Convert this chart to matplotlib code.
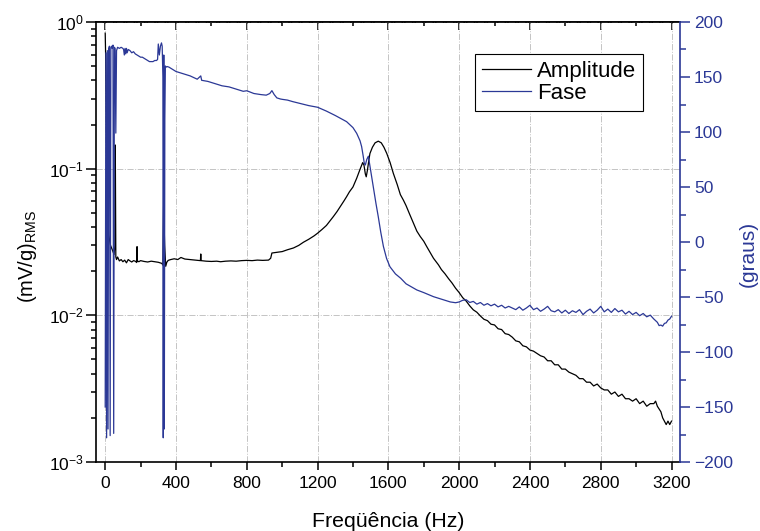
import matplotlib
matplotlib.use("Agg")
import matplotlib.pyplot as plt
from matplotlib.ticker import MultipleLocator, LogLocator, NullFormatter, FixedLocator

plt.rcParams['font.family'] = ['Liberation Sans', 'DejaVu Sans']
plt.rcParams['mathtext.fontset'] = 'custom'
plt.rcParams['mathtext.rm'] = 'Liberation Sans'
plt.rcParams['mathtext.it'] = 'Liberation Sans:italic'

# ---------------- data ----------------
amp_freq = [0, 3, 6, 10, 20, 30, 40, 50, 55, 57, 60, 64, 70, 80, 90, 100, 110, 120, 130, 140,
            150, 160, 170, 178, 180, 182, 190, 200, 220, 240, 260, 280, 300, 310, 320, 326,
            330, 336, 342, 348, 356, 370, 390, 410, 428, 450, 480, 510, 538, 540, 542, 570,
            600, 630, 652, 680, 710, 740, 770, 800, 830, 860, 890, 923, 935, 942, 960, 980,
            1000, 1030, 1064, 1094, 1120, 1150, 1180, 1200, 1225, 1250, 1270, 1289, 1310,
            1330, 1350, 1364, 1380, 1400, 1421, 1440, 1455, 1462, 1470, 1475, 1482, 1490,
            1496, 1510, 1525, 1543, 1560, 1575, 1591, 1610, 1628, 1650, 1668, 1685, 1700,
            1720, 1742, 1761, 1780, 1800, 1817, 1835, 1855, 1870, 1883,
            1900, 1920, 1940, 1960, 1980, 2000, 2020, 2040, 2060, 2080, 2100, 2120, 2140,
            2160, 2180, 2200, 2220, 2240, 2260, 2280, 2300, 2320, 2340, 2360, 2380, 2400,
            2420, 2440, 2460, 2480, 2500, 2520, 2540, 2560, 2580, 2600, 2620, 2640, 2660,
            2680, 2700, 2720, 2740, 2760, 2780, 2800, 2820, 2840, 2860, 2880, 2900, 2920,
            2940, 2960, 2980, 3000, 3020, 3040, 3060, 3080, 3100, 3110, 3120, 3130, 3140,
            3150, 3160, 3170, 3180, 3190, 3200]
amplitude = [0.84, 0.55, 0.2, 0.06, 0.035, 0.03, 0.028, 0.026, 0.03, 0.145, 0.025, 0.024, 0.025,
             0.0235, 0.024, 0.0232, 0.0238, 0.0228, 0.024, 0.0235, 0.0231, 0.0236, 0.0234,
             0.0229, 0.0294, 0.0235, 0.0232, 0.0236, 0.0233, 0.0231, 0.0234, 0.0232, 0.023,
             0.0228, 0.0226, 0.022, 0.055, 0.03, 0.0216, 0.023, 0.0237, 0.024, 0.0243, 0.0240,
             0.0248, 0.0242, 0.0240, 0.0238, 0.0236, 0.0262, 0.0236, 0.0234, 0.0233, 0.0234,
             0.0232, 0.0234, 0.0235, 0.0234, 0.0236, 0.0237, 0.0236, 0.0238, 0.0237, 0.0238,
             0.0245, 0.0266, 0.0268, 0.0270, 0.0272, 0.0280, 0.0288, 0.0300, 0.0315, 0.0330,
             0.0348, 0.0363, 0.0385, 0.0410, 0.0440, 0.0471, 0.0510, 0.0555, 0.0605, 0.0644,
             0.0695, 0.0750, 0.0860, 0.0990, 0.1100, 0.1060, 0.0920, 0.0880, 0.0980, 0.1150,
             0.1270, 0.1400, 0.1500, 0.1540, 0.1500, 0.1400, 0.1270, 0.1100, 0.0930, 0.0780,
             0.0665, 0.0610, 0.0560, 0.0490, 0.0425, 0.0375, 0.0345, 0.0320, 0.0294, 0.0270,
             0.0245, 0.0232, 0.0221,
             0.0205, 0.0192, 0.0178, 0.0166, 0.0153, 0.0143, 0.0132, 0.0125, 0.0116, 0.0109,
             0.0105, 0.0099, 0.0094, 0.0092, 0.0087, 0.0086, 0.0081, 0.0080, 0.0075, 0.0074,
             0.0071, 0.0067, 0.0066, 0.0062, 0.0061, 0.0058, 0.0057, 0.0055, 0.0053, 0.0052,
             0.0049, 0.0049, 0.0046, 0.0046, 0.0043, 0.0043, 0.0041, 0.0040, 0.0039, 0.0037,
             0.0037, 0.0035, 0.0035, 0.0033, 0.0034, 0.0032, 0.0031, 0.0031, 0.0029, 0.0030,
             0.0028, 0.0029, 0.0027, 0.0027, 0.0026, 0.0027, 0.0025, 0.0026, 0.0024, 0.0025,
             0.0025, 0.0026, 0.0024, 0.0023, 0.0022, 0.0020, 0.0019, 0.0018, 0.0019, 0.0018,
             0.0019]

phase_freq = [0, 4, 8, 12, 16, 20, 24, 28, 32, 36, 40, 44, 48, 52, 56, 60, 64, 70, 80, 90, 100,
              104, 108, 112, 116, 120, 124, 130, 140, 150, 160, 170, 180, 190, 200, 210, 220,
              230, 240, 250, 260, 270, 280, 290, 296, 300, 306, 312, 318, 322, 326, 328, 331,
              334, 337, 340, 345, 350, 360, 380, 400, 440, 480, 520, 540, 545, 580, 620, 660,
              700, 740, 780, 800, 840, 880, 910, 930, 942, 955, 970, 990, 1000, 1030, 1060,
              1100, 1150, 1200, 1250, 1300, 1364, 1400, 1421, 1440, 1449, 1458, 1464, 1470,
              1478, 1487, 1495, 1505, 1515, 1530, 1543, 1557, 1572, 1590, 1609, 1640, 1670,
              1700, 1761, 1800, 1855, 1900, 1950, 1980,
              2000, 2020, 2040, 2060, 2080, 2100, 2120, 2140, 2160, 2180, 2200, 2220, 2240,
              2260, 2280, 2300, 2320, 2340, 2360, 2380, 2400, 2420, 2440, 2460, 2480, 2500,
              2520, 2540, 2560, 2580, 2600, 2620, 2640, 2660, 2680, 2700, 2720, 2740, 2760,
              2780, 2800, 2820, 2840, 2860, 2880, 2900, 2920, 2940, 2960, 2980, 3000, 3020,
              3040, 3060, 3080, 3100, 3120, 3130, 3140, 3150, 3160, 3170, 3180, 3190, 3200]
phase = [-150, 172, -178, 174, -170, 176, 178, -176, 177, 178, 176, 179, -174, 177, 176, 99, 174,
         177, 176, 177, 176, 175, 170, 176, 171, 176, 172, 175, 174, 172, 173, 171, 170, 169,
         168, 168, 167, 166, 165, 164, 164, 164, 165, 165, 166, 180, 170, 178, 181, 178, 150,
         -178, 170, -170, 112, 160, 159, 159.5, 159, 157, 155, 153, 151, 148, 151, 147, 146,
         144, 142, 141, 139, 137, 137.5, 135, 134, 133.5, 135, 137.6, 134, 131, 130, 129.7,
         129, 127.6, 126, 124, 122.5, 119, 115, 109.4, 104, 98.8, 92, 86.7, 78, 71.5, 70, 75,
         78, 70, 60, 50, 35, 23, 9, -4, -15, -22.5, -29, -33, -38, -43.6, -46, -49.7, -52,
         -54.5, -55.2,
         -54.5, -53.0, -52.5, -55.0, -54.0, -56.5, -55.0, -57.5, -56.0, -58.0, -56.5, -59.0,
         -57.5, -60.0, -58.5, -60.0, -61.5, -59.0, -62.0, -60.0, -57.5, -61.5, -60.0, -63.0,
         -61.0, -58.5, -62.5, -63.5, -61.5, -64.5, -62.0, -65.0, -62.5, -64.0, -61.5, -66.0,
         -63.0, -61.0, -64.5, -62.0, -58.5, -63.5, -61.0, -64.0, -60.5, -63.5, -62.0, -65.5,
         -63.0, -66.0, -64.0, -67.0, -65.0, -68.0, -66.5, -70.0, -73.0, -76.0, -75.5, -76.5,
         -74.0, -73.5, -71.0, -70.0, -67.5]

x_ticks = [0, 400, 800, 1200, 1600, 2000, 2400, 2800, 3200]
blue = '#2b3896'

# ---------------- figure ----------------
fig = plt.figure(figsize=(7.6, 5.31), dpi=100)
ax = fig.add_axes([96/760, 1-462/531, 584/760, 440/531])
ax2 = ax.twinx()

la, = ax.plot(amp_freq, amplitude, color='black', lw=0.9, label='Amplitude')
lp, = ax2.plot(phase_freq, phase, color=blue, lw=0.9, label='Fase')

ax.set_yscale('log')
ax.set_ylim(1e-3, 1e0)
ax.set_xlim(-52, 3248)
ax2.set_ylim(-200, 200)

ax.xaxis.set_major_locator(FixedLocator(x_ticks))
ax.xaxis.set_minor_locator(MultipleLocator(200))
ax.yaxis.set_major_locator(LogLocator(base=10, numticks=10))
ax.yaxis.set_minor_locator(LogLocator(base=10, subs=range(2, 10), numticks=10))
ax.yaxis.set_minor_formatter(NullFormatter())

ax2.yaxis.set_major_locator(MultipleLocator(50))
ax2.yaxis.set_minor_locator(MultipleLocator(25))

ax.grid(True, which='major', axis='both', color='#c4c4c4', ls='-.', lw=0.7)

ax.tick_params(axis='x', which='major', direction='out', length=6, width=1.1,
               labelsize=12.5, pad=4, top=False)
ax.tick_params(axis='x', which='minor', direction='out', length=3.5, width=1.1, top=False)
ax.tick_params(axis='y', which='major', direction='out', length=7, width=1.1,
               labelsize=12.5, pad=2)
ax.tick_params(axis='y', which='minor', direction='out', length=3.8, width=1.1)

# top axis ticks pointing inward
axt = ax.secondary_xaxis('top')
axt.xaxis.set_major_locator(FixedLocator(x_ticks))
axt.xaxis.set_minor_locator(MultipleLocator(200))
axt.tick_params(axis='x', which='major', direction='in', length=6, width=1.1, labelsize=0,
                labeltop=False)
axt.tick_params(axis='x', which='minor', direction='in', length=3, width=1.1)
axt.set_xticklabels([])
axt.spines['top'].set_linewidth(1.2)

ax2.tick_params(axis='y', which='major', direction='out', length=7, width=1.1,
                labelsize=12.5, colors=blue, pad=3)
ax2.tick_params(axis='y', which='minor', direction='out', length=4, width=1.1, colors=blue)

for s in ['left', 'bottom', 'top']:
    ax.spines[s].set_linewidth(1.2)
ax.spines['right'].set_visible(False)
ax2.spines['right'].set_color(blue)
ax2.spines['right'].set_linewidth(1.2)
ax2.spines['left'].set_visible(False)
ax2.spines['top'].set_visible(False)
ax2.spines['bottom'].set_visible(False)

ax.set_xlabel('Freqüência (Hz)', fontsize=15.3, labelpad=15)
ax.set_ylabel('(mV/g)$_{\\mathregular{RMS}}$', fontsize=14.5)
ax.yaxis.set_label_coords(-0.098, 0.468)
ax2.set_ylabel('(graus)', fontsize=15, color=blue)
ax2.yaxis.set_label_coords(1.100, 0.472)

leg = ax2.legend(handles=[la, lp], loc='upper right', bbox_to_anchor=(0.937, 0.927),
                 fontsize=16, frameon=True, fancybox=False, edgecolor='black',
                 framealpha=1, handlelength=2.2, borderpad=0.3, labelspacing=0.05,
                 handletextpad=0.3, borderaxespad=0)
leg.get_frame().set_linewidth(0.8)

fig.savefig('out.png', dpi=100)
